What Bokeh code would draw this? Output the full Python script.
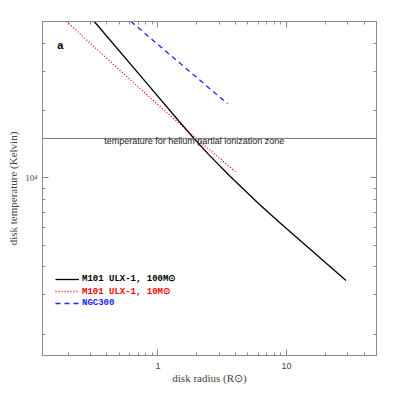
from bokeh.plotting import figure
from bokeh.models import (FixedTicker, LogAxis, Span, Label, Legend, LegendItem)
from bokeh.embed import file_html
from bokeh.resources import INLINE

# ---- data ----
ulx100_r = [0.3197, 0.8556, 1.4641, 1.9152, 2.5055, 3.5844, 6.1348, 8.7747, 15.014, 28.967]
ulx100_T = [50000, 25685, 17855, 14944, 12634, 10240, 7612, 6323, 4830, 3473]

ulx10_r = [0.19468, 0.41810, 0.85560, 1.4641, 2.5055, 3.9913]
ulx10_T = [50000, 33430, 23003, 17498, 13385, 10670]

ngc300_r = [0.6166, 1.464, 3.476]
ngc300_T = [50000, 32740, 21430]

helium_T = 15000

x_major = [1, 10]
x_major_labels = {1: "1", 10: "10"}
x_minor = [0.2, 0.3, 0.4, 0.5, 0.6, 0.7, 0.8, 0.9, 2, 3, 4, 5, 6, 7, 8, 9, 20, 30, 40, 50]
y_major = [10000]
y_minor = [2000, 3000, 4000, 5000, 6000, 7000, 8000, 9000, 20000, 30000, 40000, 50000]
y_major_labels = {10000: "10⁴"}

x_range = (0.1266, 50)
y_range = (1604, 50000)

labels = ["M101 ULX-1, 100M⊙", "M101 ULX-1, 10M⊙", "NGC300"]
colors = ["#000000", "#ff0000", "#2222ff"]

GRAY = "#8a8a8a"

p = figure(x_axis_type="log", y_axis_type="log",
           x_range=x_range, y_range=y_range,
           frame_width=334, frame_height=334,
           min_border_left=42, min_border_top=21, min_border_right=6, min_border_bottom=30,
           output_backend="svg", toolbar_location=None)
p.xgrid.visible = False
p.ygrid.visible = False
p.outline_line_color = GRAY
p.background_fill_color = "white"
p.border_fill_color = "white"

def style_axis(ax, ticks, minor, show_labels):
    ax.ticker = FixedTicker(ticks=ticks, minor_ticks=minor)
    ax.axis_line_color = GRAY
    ax.major_tick_line_color = GRAY
    ax.minor_tick_line_color = GRAY
    ax.major_tick_in = 6
    ax.major_tick_out = 0
    ax.minor_tick_in = 3
    ax.minor_tick_out = 0
    if not show_labels:
        ax.major_label_text_alpha = 0
        ax.major_label_text_font_size = "1px"
        ax.major_label_standoff = 0

xa = p.xaxis[0]
style_axis(xa, x_major, x_minor, True)
xa.major_label_overrides = x_major_labels
xa.axis_label = "disk radius (R⊙)"
xa.axis_label_text_font = "Liberation Serif"
xa.axis_label_text_font_style = "normal"
xa.axis_label_text_font_size = "11px"
xa.axis_label_standoff = 0
xa.major_label_text_font = "Liberation Sans"
xa.major_label_text_font_size = "9px"
xa.major_label_standoff = 7

ya = p.yaxis[0]
style_axis(ya, y_major, y_minor, True)
ya.major_label_overrides = y_major_labels
ya.axis_label = "disk temperature (Kelvin)"
ya.axis_label_text_font = "Liberation Serif"
ya.axis_label_text_font_style = "normal"
ya.axis_label_text_font_size = "11px"
ya.axis_label_standoff = 3
ya.major_label_text_font = "Liberation Serif"
ya.major_label_text_font_size = "9px"
ya.major_label_standoff = 5
ya.major_label_orientation = "horizontal"

top = LogAxis()
style_axis(top, x_major, x_minor, False)
p.add_layout(top, "above")
right = LogAxis()
style_axis(right, y_major, y_minor, False)
p.add_layout(right, "right")

p.add_layout(Span(location=helium_T, dimension="width", line_color="#777777", line_width=1))

r1 = p.line(ulx100_r, ulx100_T, line_color=colors[0], line_width=1.3)
r2 = p.line(ulx10_r, ulx10_T, line_color=colors[1], line_width=1.3, line_dash="1 2")
r3 = p.line(ngc300_r, ngc300_T, line_color=colors[2], line_width=1.3, line_dash="5 4")

p.add_layout(Label(x=0.174, y=39060, text="a", text_font="Liberation Sans",
                   text_font_style="bold", text_font_size="11px",
                   text_align="center", text_baseline="middle", text_color="black"))
p.add_layout(Label(x=0.382, y=14650, text="temperature for helium partial ionization zone",
                   text_font="Liberation Sans", text_font_size="9px",
                   text_baseline="middle", text_color="#222222"))

tops = [71, 58.3, 46.7]
for rend, lab, col, t in zip([r1, r2, r3], labels, colors, tops):
    leg = Legend(items=[LegendItem(label=lab, renderers=[rend])],
                 location=(13, t), padding=0, margin=0, spacing=0,
                 glyph_width=24, glyph_height=10, label_height=10,
                 label_standoff=3, border_line_alpha=0, background_fill_alpha=0,
                 label_text_font="Liberation Mono", label_text_font_style="bold",
                 label_text_font_size="9px", label_text_color=col)
    p.add_layout(leg, "center")

open("out.html", "w").write(file_html(p, INLINE))
